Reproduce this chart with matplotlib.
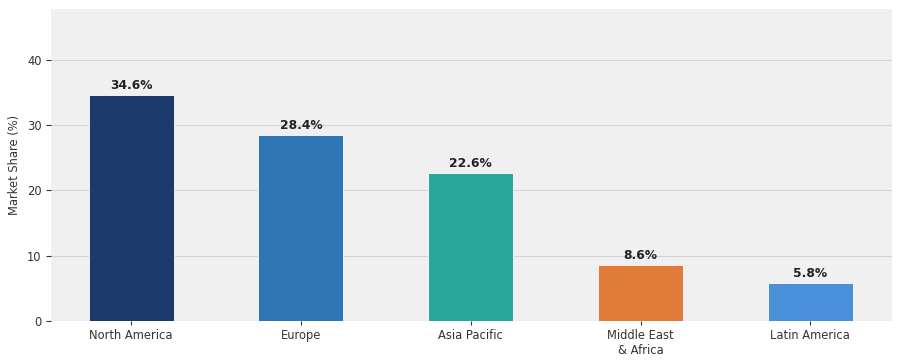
import matplotlib
matplotlib.use('Agg')
from matplotlib import pyplot as plt

regioes = ['North America', 'Europe', 'Asia Pacific', 'Middle East\n& Africa', 'Latin America']
participacao = [34.6, 28.4, 22.6, 8.6, 5.8]
cores = ['#1b3a6b', '#2e75b6', '#2aa79b', '#e07b39', '#4a90d9']

fig, ax = plt.subplots(figsize=(9, 3.6), dpi=100)
ax.set_facecolor('#f0f0f0')
posicoes = range(len(regioes))
ax.bar(posicoes, participacao, width=0.5, color=cores, edgecolor='white', linewidth=0.6, zorder=3)
for x, v in zip(posicoes, participacao):
    ax.text(x, v + 0.5, f'{v}%', ha='center', va='bottom', fontsize=8.8, fontweight='bold', color='#222222', zorder=4)

ax.set_xticks(list(posicoes))
ax.set_xticklabels(regioes, fontsize=8.3, color='#333333')
ax.set_yticks([0, 10, 20, 30, 40])
ax.tick_params(axis='y', labelsize=8.3, colors='#333333')
ax.tick_params(axis='x', colors='#333333', length=3, pad=3)
ax.set_ylim(0, max(participacao) * 1.38)
ax.set_xlim(-0.47, 4.48)
ax.set_ylabel('Market Share (%)', fontsize=8.3, color='#333333', labelpad=4)
ax.yaxis.grid(True, color='#dad2d8', linewidth=0.8, zorder=0)
for s in ax.spines.values():
    s.set_visible(False)

plt.subplots_adjust(left=0.057, right=0.991, bottom=0.108, top=0.975)
plt.savefig('out.png', dpi=100)
